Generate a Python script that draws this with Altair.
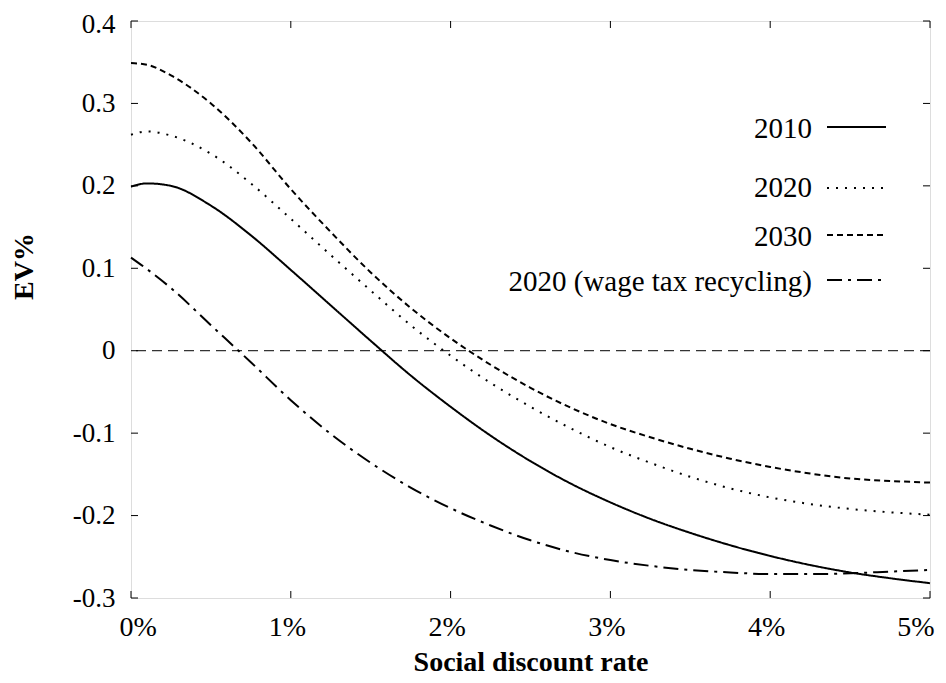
import altair as alt
import pandas as pd

# ---------------- data ----------------
rates = [0, 0.1, 0.25, 0.5, 0.75, 1.0, 1.25, 1.5, 1.75, 2.0, 2.25, 2.5, 2.75,
         3.0, 3.25, 3.5, 3.75, 4.0, 4.25, 4.5, 4.75, 5.0]
ev_2010 = [0.199, 0.203, 0.200, 0.176, 0.140, 0.098, 0.055, 0.012, -0.030, -0.068,
           -0.103, -0.134, -0.161, -0.184, -0.204, -0.221, -0.236, -0.249, -0.260,
           -0.269, -0.276, -0.282]
ev_2020 = [0.262, 0.266, 0.261, 0.239, 0.203, 0.160, 0.116, 0.073, 0.031, -0.006,
           -0.039, -0.068, -0.094, -0.117, -0.136, -0.153, -0.167, -0.178, -0.186,
           -0.192, -0.196, -0.199]
ev_2030 = [0.349, 0.347, 0.334, 0.300, 0.253, 0.196, 0.144, 0.095, 0.052, 0.015,
           -0.017, -0.045, -0.069, -0.089, -0.105, -0.119, -0.131, -0.141, -0.149,
           -0.155, -0.158, -0.160]
ev_wage = [0.113, 0.099, 0.076, 0.031, -0.014, -0.060, -0.101, -0.136, -0.166, -0.191,
           -0.212, -0.230, -0.244, -0.254, -0.261, -0.266, -0.269, -0.271, -0.271,
           -0.270, -0.268, -0.266]

series_names = ["2010", "2020", "2030", "2020 (wage tax recycling)"]
x_ticks = [0, 1, 2, 3, 4, 5]
y_ticks = [-0.3, -0.2, -0.1, 0.0, 0.1, 0.2, 0.3, 0.4]

# ---------------- styles / layout ----------------
FONT = "Liberation Serif"
W, H = 799, 577
TICK = 7
dashes = [[1, 0], [2, 7], [6, 4], [15, 6, 3, 6]]
legend_line_y = [106, 167, 214, 259]
legend_text_y = [108, 167, 216, 261]
legend_text_x = 681
legend_line_x = (696, 755)

rows = []
for name, vals in zip(series_names, [ev_2010, ev_2020, ev_2030, ev_wage]):
    for r, v in zip(rates, vals):
        rows.append({"rate": r, "ev": v, "series": name})
df = pd.DataFrame(rows)

dash_scale = alt.Scale(domain=series_names, range=dashes)

x_scale = alt.Scale(domain=[0, 5], nice=False, zero=False)
y_scale = alt.Scale(domain=[-0.3, 0.4], nice=False, zero=False)

x_axis = alt.Axis(
    values=x_ticks, labelExpr="datum.value + '%'", title="Social discount rate",
    grid=False, domain=False, ticks=False, tickSize=0, labelPadding=15,
    labelOffset=-4, labelFlush=True, labelFlushOffset=8,
    labelFont=FONT, labelFontSize=28, labelColor="black",
    titleFont=FONT, titleFontSize=28, titleFontWeight="bold", titleColor="black",
    titlePadding=7,
)
y_axis = alt.Axis(
    values=y_ticks,
    labelExpr="abs(datum.value) < 1e-9 ? '0' : replace(format(datum.value, '.1f'), '\u2212', '-')",
    title="EV%", grid=False, domain=False, ticks=False, tickSize=0, labelPadding=16,
    labelOffset={"condition": {"test": "datum.value > 0.35", "value": 3}, "value": 0},
    labelFont=FONT, labelFontSize=27, labelColor="black",
    titleFont=FONT, titleFontSize=28, titleFontWeight="bold", titleColor="black",
    titleAngle=270, titleX=-107, titleY=245, titleAlign="center", titleBaseline="middle",
    labelFlush=False,
)

X = lambda: alt.X("rate:Q", scale=x_scale, axis=x_axis)
Y = lambda: alt.Y("ev:Q", scale=y_scale, axis=y_axis)

lines = alt.Chart(df).mark_line(
    interpolate="monotone", strokeWidth=2, color="black"
).encode(
    x=X(), y=Y(),
    strokeDash=alt.StrokeDash("series:N", scale=dash_scale, legend=None),
)

zero_line = alt.Chart(pd.DataFrame({"ev": [0.0]})).mark_rule(
    color="black", strokeWidth=1, strokeDash=[10, 6]
).encode(y=Y())

xt = pd.DataFrame({"rate": x_ticks})
yt = pd.DataFrame({"ev": y_ticks})
tick_style = dict(color="black", strokeWidth=1)
tick_bottom = alt.Chart(xt).mark_rule(**tick_style).encode(
    x=X(), y=alt.value(H - TICK), y2=alt.value(H))
tick_top = alt.Chart(xt).mark_rule(**tick_style).encode(
    x=X(), y=alt.value(0), y2=alt.value(TICK))
tick_left = alt.Chart(yt).mark_rule(**tick_style).encode(
    y=Y(), x=alt.value(0), x2=alt.value(TICK))
tick_right = alt.Chart(yt).mark_rule(**tick_style).encode(
    y=Y(), x=alt.value(W - TICK), x2=alt.value(W))

leg_df = pd.DataFrame({
    "series": series_names,
    "ly": legend_line_y,
    "ty": legend_text_y,
})
leg_text = alt.Chart(leg_df).mark_text(
    align="right", baseline="middle", font=FONT, fontSize=29, color="black"
).encode(
    text="series:N", x=alt.value(legend_text_x),
    y=alt.Y("ty:Q", scale=None, axis=None),
)
leg_lines = alt.Chart(leg_df).mark_rule(color="black", strokeWidth=2).encode(
    x=alt.value(legend_line_x[0]), x2=alt.value(legend_line_x[1]),
    y=alt.Y("ly:Q", scale=None, axis=None),
    strokeDash=alt.StrokeDash("series:N", scale=dash_scale, legend=None),
)

chart = alt.layer(
    lines, zero_line, tick_bottom, tick_top, tick_left, tick_right, leg_lines, leg_text
).properties(
    width=W, height=H,
    autosize=alt.AutoSizeParams(type="none"),
    padding={"left": 123, "top": 13, "right": 8, "bottom": 77},
).configure_view(
    stroke="black", strokeWidth=1
).configure(background="white")

chart.save("out.html", embed_options={"renderer": "svg", "actions": False})
